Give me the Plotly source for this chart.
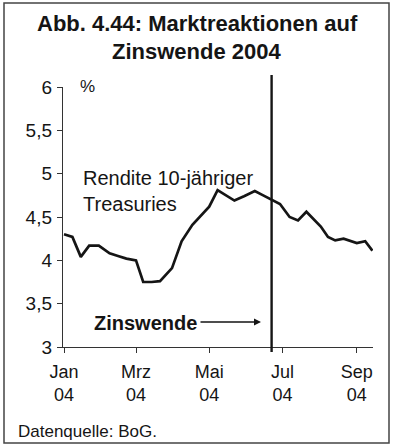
import plotly.graph_objects as go

# Rendite 10-jähriger US-Treasuries 2004 (wöchentlich, in %)
dates = ["2004-01-01", "2004-01-08", "2004-01-15", "2004-01-22", "2004-01-30",
         "2004-02-08", "2004-02-15", "2004-02-22", "2004-03-01", "2004-03-07",
         "2004-03-14", "2004-03-21", "2004-03-31", "2004-04-08", "2004-04-17",
         "2004-04-24", "2004-05-01", "2004-05-08", "2004-05-15", "2004-05-22",
         "2004-05-30", "2004-06-08", "2004-06-15", "2004-06-22", "2004-06-29",
         "2004-07-07", "2004-07-14", "2004-07-21", "2004-07-28", "2004-08-02",
         "2004-08-08", "2004-08-14", "2004-08-21", "2004-08-26", "2004-09-01",
         "2004-09-08", "2004-09-14"]
yields = [4.30, 4.27, 4.04, 4.17, 4.17, 4.08, 4.05, 4.02, 4.00, 3.75,
          3.75, 3.76, 3.91, 4.22, 4.41, 4.52, 4.62, 4.81, 4.75, 4.69,
          4.74, 4.80, 4.75, 4.70, 4.65, 4.50, 4.46, 4.56, 4.46, 4.39,
          4.27, 4.23, 4.25, 4.23, 4.20, 4.22, 4.11]

x_tickvals = ["2004-01-01", "2004-03-01", "2004-05-01", "2004-07-01", "2004-09-01"]
x_ticktext = ["Jan<br>04", "Mrz<br>04", "Mai<br>04", "Jul<br>04", "Sep<br>04"]
y_tickvals = [3, 3.5, 4, 4.5, 5, 5.5, 6]
y_ticktext = ["3", "3,5", "4", "4,5", "5", "5,5", "6"]

zinswende_date = "2004-06-22"

FONT = "Liberation Sans, Arial, Helvetica, sans-serif"
INK = "#151515"

W, H = 393, 444
L, R, T, B = 63, 20, 87, 97
PW, PH = W - L - R, H - T - B


def px(x):
    return (x - L) / PW


def py(y):
    return (H - B - y) / PH


fig = go.Figure()
fig.add_trace(go.Scatter(
    x=dates, y=yields, mode="lines",
    line=dict(color=INK, width=2.7),
    hoverinfo="x+y",
    showlegend=False,
))

fig.update_layout(
    width=W, height=H,
    margin=dict(l=L, r=R, t=T, b=B),
    paper_bgcolor="white", plot_bgcolor="white",
    font=dict(family=FONT, color=INK),
    xaxis=dict(
        type="date",
        range=["2003-12-31 04:00", "2004-09-14 12:00"],
        tickmode="array", tickvals=x_tickvals, ticktext=x_ticktext,
        ticks="outside", ticklen=5, tickwidth=1.3, tickcolor="#333",
        showline=True, linecolor="#333", linewidth=1.4,
        showgrid=False, zeroline=False,
        tickfont=dict(size=18, color=INK),
        ticklabelstandoff=3,
    ),
    yaxis=dict(
        range=[3, 6],
        tickmode="array", tickvals=y_tickvals, ticktext=y_ticktext,
        ticks="outside", ticklen=5, tickwidth=1.3, tickcolor="#333",
        showline=True, linecolor="#333", linewidth=1.4,
        showgrid=False, zeroline=False,
        tickfont=dict(size=19, color=INK),
        ticklabelstandoff=1,
    ),
)

# Zinswende: senkrechte Linie
fig.add_shape(type="line", xref="x", yref="paper",
              x0=zinswende_date, x1=zinswende_date,
              y0=py(352), y1=py(75),
              line=dict(color=INK, width=2.4))

# Rahmen um die Abbildung
fig.add_shape(type="rect", xref="paper", yref="paper",
              x0=px(4), x1=px(389), y0=py(443), y1=py(3),
              line=dict(color="#444", width=1.5), layer="below")

# Titel
fig.add_annotation(text="<b>Abb. 4.44: Marktreaktionen auf</b>",
                   xref="paper", yref="paper", x=px(197), y=py(24),
                   showarrow=False, font=dict(size=22, family=FONT, color=INK),
                   xanchor="center", yanchor="middle")
fig.add_annotation(text="<b>Zinswende 2004</b>",
                   xref="paper", yref="paper", x=px(197), y=py(51),
                   showarrow=False, font=dict(size=22, family=FONT, color=INK),
                   xanchor="center", yanchor="middle")

# Einheit
fig.add_annotation(text="%", xref="paper", yref="paper", x=px(78), y=py(86),
                   showarrow=False, font=dict(size=17, family=FONT, color=INK),
                   xanchor="left", yanchor="middle")

# Serienbeschriftung
fig.add_annotation(text="Rendite 10-jähriger", xref="paper", yref="paper",
                   x=px(81), y=py(178), showarrow=False,
                   font=dict(size=20, family=FONT, color=INK),
                   xanchor="left", yanchor="middle")
fig.add_annotation(text="Treasuries", xref="paper", yref="paper",
                   x=px(81), y=py(204), showarrow=False,
                   font=dict(size=20, family=FONT, color=INK),
                   xanchor="left", yanchor="middle")

# Pfeil zur Zinswende
fig.add_annotation(text="<b>Zinswende</b>", xref="paper", yref="paper",
                   x=px(92), y=py(323), showarrow=False,
                   font=dict(size=20, family=FONT, color=INK),
                   xanchor="left", yanchor="middle")
fig.add_annotation(text="", xref="paper", yref="paper",
                   x=px(261), y=py(322), ax=-(261 - 199), ay=0,
                   axref="pixel", ayref="pixel",
                   showarrow=True, arrowhead=2, arrowsize=1.0,
                   arrowwidth=1.4, arrowcolor=INK)

# Quelle
fig.add_annotation(text="Datenquelle: BoG.", xref="paper", yref="paper",
                   x=px(16), y=py(431), showarrow=False,
                   font=dict(size=17, family=FONT, color=INK),
                   xanchor="left", yanchor="middle")

fig.write_html("out.html")
